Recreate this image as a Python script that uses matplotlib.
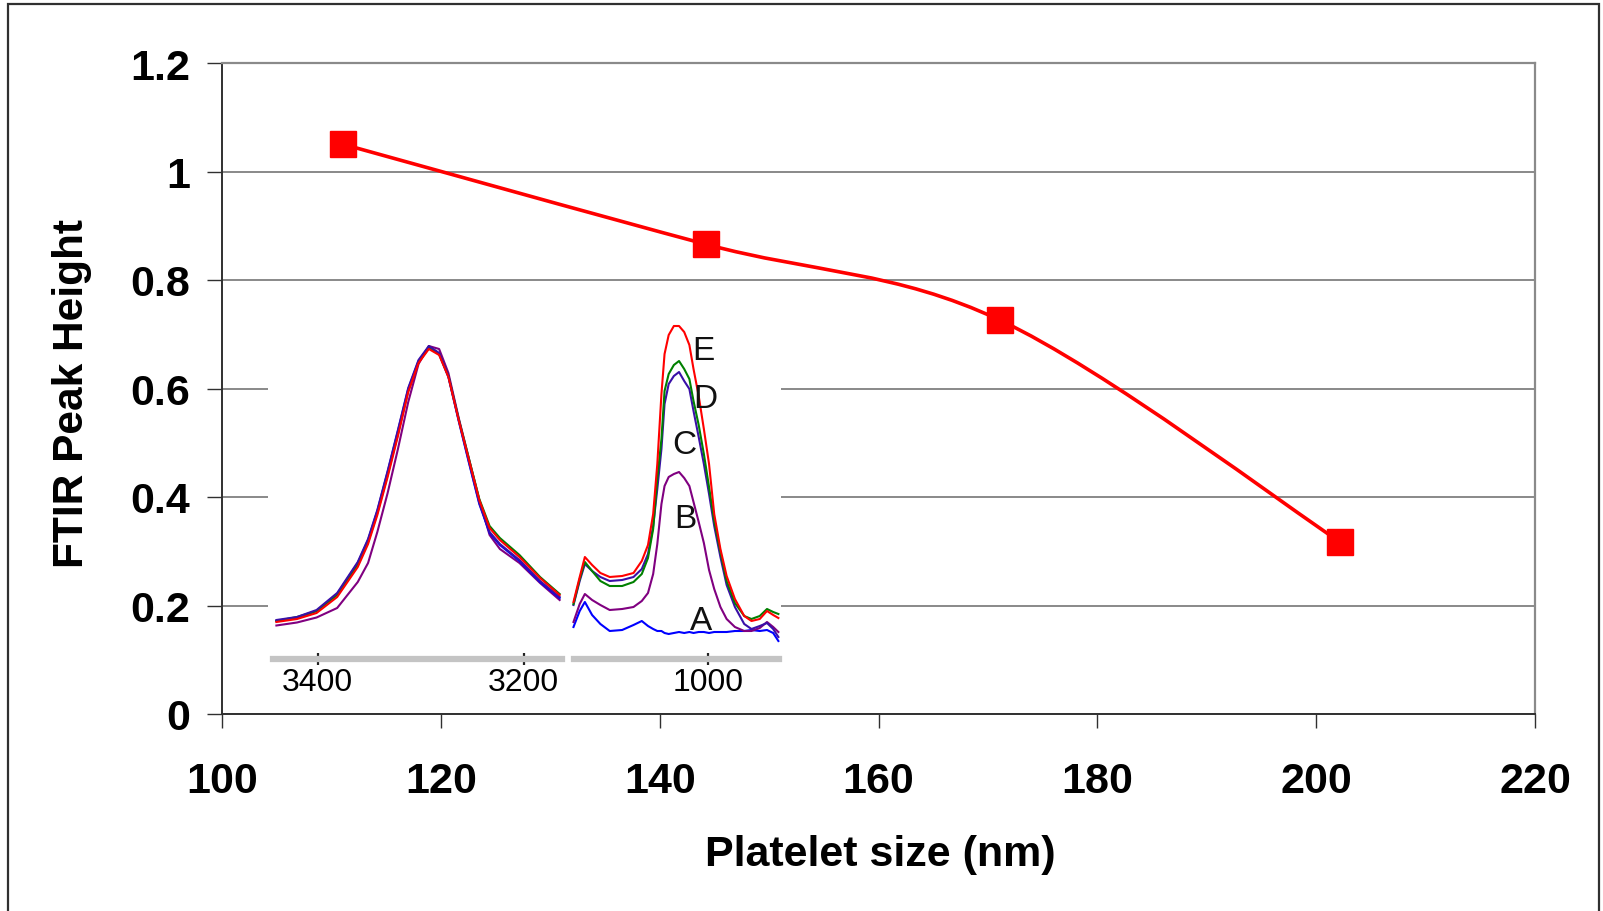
import numpy as np
import matplotlib.pyplot as plt
from matplotlib.path import Path
from matplotlib.patches import PathPatch, Rectangle

plt.rcParams['font.family'] = ['Liberation Sans', 'DejaVu Sans']

W, H = 1603, 912

# main series
size_nm = [111.1, 144.2, 171.1, 202.2]
peak_height = [1.05, 0.866, 0.726, 0.317]

# inset, left panel (O-H region), absorbance in arbitrary units
wn_oh = [3440, 3420, 3401, 3381, 3361, 3351, 3342, 3332, 3322, 3312, 3302,
         3292, 3282, 3273, 3263, 3253, 3243, 3233, 3223, 3204, 3184, 3165]
oh_A = [0.38, 0.41, 0.48, 0.65, 0.96, 1.19, 1.48, 1.87, 2.28, 2.70, 2.98,
        3.12, 3.05, 2.82, 2.38, 1.96, 1.55, 1.26, 1.14, 0.98, 0.77, 0.61]
oh_B = [0.335, 0.365, 0.415, 0.51, 0.77, 0.96, 1.27, 1.66, 2.10, 2.57, 2.95,
        3.13, 3.10, 2.86, 2.41, 2.00, 1.59, 1.24, 1.10, 0.96, 0.76, 0.59]
oh_C = [0.39, 0.42, 0.49, 0.66, 0.97, 1.20, 1.49, 1.88, 2.29, 2.71, 2.99,
        3.13, 3.06, 2.83, 2.39, 1.97, 1.56, 1.27, 1.15, 0.99, 0.78, 0.62]
oh_D = [0.38, 0.42, 0.48, 0.64, 0.94, 1.17, 1.46, 1.84, 2.25, 2.68, 2.97,
        3.11, 3.05, 2.83, 2.40, 2.00, 1.60, 1.33, 1.21, 1.04, 0.82, 0.65]
oh_E = [0.37, 0.40, 0.46, 0.62, 0.92, 1.15, 1.44, 1.82, 2.23, 2.67, 2.96,
        3.10, 3.04, 2.82, 2.39, 1.99, 1.59, 1.31, 1.19, 1.02, 0.81, 0.64]

# inset, right panel (Si-O region)
wn_sio = [1130, 1124, 1119, 1112, 1104, 1095, 1083, 1072, 1064, 1058, 1053,
          1049, 1045, 1042, 1038, 1033, 1028, 1023, 1018, 1014, 1009, 1004,
          999, 994, 988, 982, 974, 965, 958, 950, 943, 937, 932]
sio_A = [0.32, 0.48, 0.57, 0.44, 0.35, 0.28, 0.29, 0.34, 0.38, 0.33, 0.30,
         0.28, 0.28, 0.26, 0.25, 0.26, 0.27, 0.26, 0.27, 0.26, 0.27, 0.27,
         0.26, 0.27, 0.27, 0.27, 0.28, 0.28, 0.29, 0.28, 0.29, 0.26, 0.18]
sio_B = [0.37, 0.55, 0.65, 0.59, 0.54, 0.49, 0.50, 0.52, 0.58, 0.66, 0.85,
         1.15, 1.55, 1.73, 1.82, 1.85, 1.87, 1.81, 1.73, 1.57, 1.37, 1.16,
         0.89, 0.70, 0.52, 0.40, 0.32, 0.28, 0.28, 0.31, 0.37, 0.32, 0.27]
sio_C = [0.54, 0.78, 0.95, 0.88, 0.82, 0.78, 0.79, 0.82, 0.90, 1.05, 1.33,
         1.70, 2.10, 2.55, 2.75, 2.83, 2.87, 2.78, 2.70, 2.48, 2.22, 1.95,
         1.65, 1.33, 1.02, 0.74, 0.52, 0.35, 0.30, 0.33, 0.36, 0.30, 0.22]
sio_D = [0.55, 0.80, 0.97, 0.88, 0.78, 0.73, 0.73, 0.77, 0.85, 1.01, 1.30,
         1.80, 2.20, 2.68, 2.85, 2.94, 2.98, 2.90, 2.80, 2.58, 2.34, 2.05,
         1.72, 1.38, 1.07, 0.78, 0.56, 0.43, 0.40, 0.43, 0.50, 0.47, 0.45]
sio_E = [0.57, 0.82, 1.02, 0.94, 0.86, 0.82, 0.83, 0.86, 0.98, 1.14, 1.45,
         1.95, 2.65, 3.05, 3.24, 3.33, 3.33, 3.27, 3.14, 2.90, 2.63, 2.30,
         1.95, 1.45, 1.10, 0.83, 0.60, 0.43, 0.38, 0.40, 0.48, 0.44, 0.41]

curve_names = ['A', 'B', 'C', 'D', 'E']
curve_colors = ['#0000ff', '#800080', '#3a10a8', '#008000', '#ff0000']
label_pos = [(1007, 0.38), (1022, 1.41), (1023, 2.14), (1003, 2.61), (1004, 3.09)]


def fx(x):
    return x / W


def fy(y):
    return 1 - y / H


def smooth_path(xs, ys):
    # Excel style smoothed line (cubic bezier through the points)
    pts = np.column_stack([xs, ys]).astype(float)
    ext = np.vstack([pts[0], pts, pts[-1]])
    verts = [pts[0]]
    codes = [Path.MOVETO]
    for i in range(len(pts) - 1):
        p0, p1, p2, p3 = ext[i], ext[i + 1], ext[i + 2], ext[i + 3]
        verts += [p1 + (p2 - p0) / 6, p2 - (p3 - p1) / 6, p2]
        codes += [Path.CURVE4] * 3
    return Path(verts, codes)


fig = plt.figure(figsize=(W / 100, H / 100), dpi=100)

# outer frame
fig.patches.append(Rectangle((fx(8), fy(930)), (1599 - 8) / W, (930 - 5) / H,
                             transform=fig.transFigure, fill=False,
                             edgecolor='#303030', lw=1.6, zorder=0))

ax = fig.add_axes([fx(222), fy(715), (1535 - 222) / W, (715 - 64) / H])
ax.set_xlim(100, 220)
ax.set_ylim(0, 1.2)
ax.set_xticks(range(100, 221, 20))
ax.set_yticks([0, 0.2, 0.4, 0.6, 0.8, 1.0, 1.2])
ax.set_yticklabels(['0', '0.2', '0.4', '0.6', '0.8', '1', '1.2'])
ax.yaxis.grid(True, color='#6a6a6a', lw=1.1)
ax.set_axisbelow(True)
for s in ['left', 'bottom']:
    ax.spines[s].set_color('#303030')
    ax.spines[s].set_linewidth(1.4)
for s in ['top', 'right']:
    ax.spines[s].set_color('#8a8a8a')
    ax.spines[s].set_linewidth(1.6)
ax.tick_params(axis='both', direction='out', color='#303030', width=1.0,
               labelsize=31)
ax.tick_params(axis='x', length=10, pad=24)
ax.tick_params(axis='y', length=11, pad=12)
for lab in ax.get_xticklabels() + ax.get_yticklabels():
    lab.set_fontweight('bold')

ax.add_patch(PathPatch(smooth_path(size_nm, peak_height), fill=False,
                       edgecolor='#ff0000', lw=2.6, zorder=3))
ax.plot(size_nm, peak_height, 's', color='#ff0000', ms=19, zorder=4)

fig.text(fx(880), fy(855), 'Platelet size (nm)', fontsize=31,
         fontweight='bold', ha='center', va='center')
fig.text(fx(72), fy(393), 'FTIR Peak Height', fontsize=30.5,
         fontweight='bold', ha='center', va='center', rotation=90)

# white background of the inset picture
fig.patches.append(Rectangle((fx(268), fy(702)), (781 - 268) / W, (702 - 300) / H,
                             transform=fig.transFigure, facecolor='white',
                             edgecolor='none', zorder=1))

spectra_oh = [oh_A, oh_B, oh_C, oh_D, oh_E]
spectra_sio = [sio_A, sio_B, sio_C, sio_D, sio_E]

axL = fig.add_axes([fx(273.3), fy(660), (561.7 - 273.3) / W, 360 / H], zorder=2)
axL.set_xlim(3443, 3163)
axR = fig.add_axes([fx(574), fy(660), (779 - 574) / W, 360 / H], zorder=2)
axR.set_xlim(1129.5, 931.4)

for a in (axL, axR):
    a.set_ylim(0, 3.6)
    a.patch.set_visible(False)
    for s in ['top', 'left', 'right']:
        a.spines[s].set_visible(False)
    a.spines['bottom'].set_color('#c4c4c4')
    a.spines['bottom'].set_linewidth(4.5)
    a.set_yticks([])
    a.tick_params(axis='x', which='major', direction='inout', length=8,
                  width=1.6, color='#222222', labelsize=23, pad=2)
    a.tick_params(axis='x', which='minor', direction='inout', length=3,
                  width=1.6, color='#222222')

axL.set_xticks([3400, 3200])
axL.set_xticks([3350, 3300, 3250], minor=True)
axR.set_xticks([1000])
axR.set_xticks([1100, 1050, 950], minor=True)

# purple drawn first in O-H panel, red last
for i in [1, 0, 3, 2, 4]:
    axL.plot(wn_oh, spectra_oh[i], color=curve_colors[i], lw=1.5, clip_on=False)
for i in range(5):
    axR.plot(wn_sio, spectra_sio[i], color=curve_colors[i], lw=1.5, clip_on=False)
for name, (x, y) in zip(curve_names, label_pos):
    axR.text(x, y, name, fontsize=24, ha='center', va='center', color='#111111')

fig.savefig('out.png', dpi=100)
